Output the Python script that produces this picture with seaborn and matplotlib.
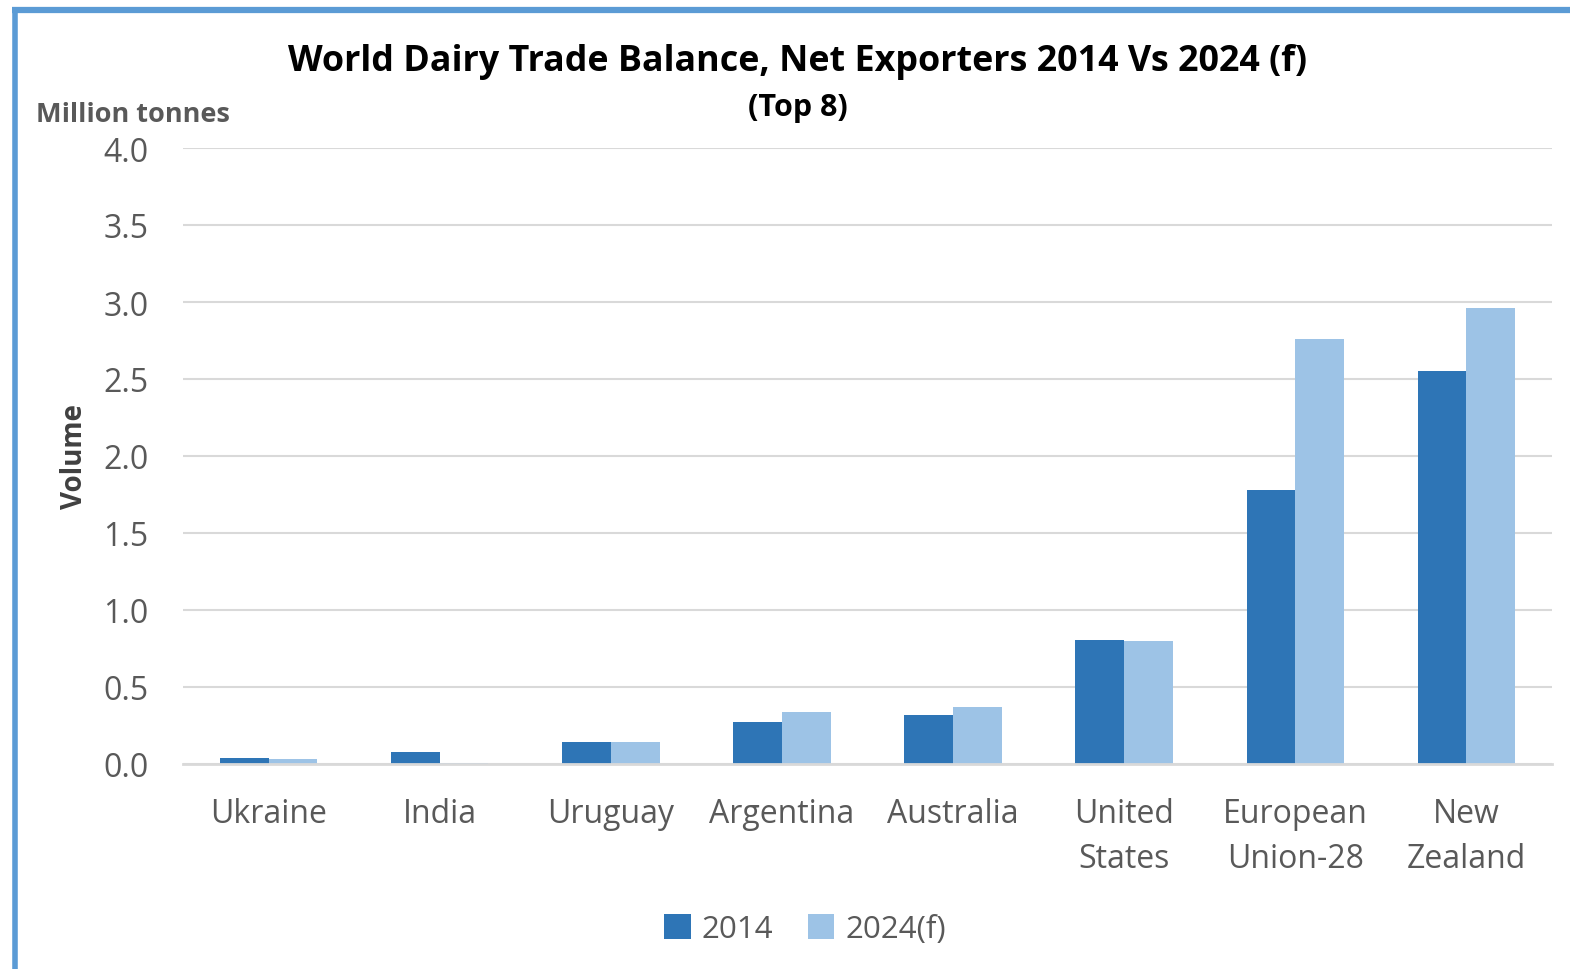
import matplotlib
matplotlib.use("Agg")
import matplotlib.pyplot as plt
import seaborn as sns
import pandas as pd
from matplotlib.patches import Patch
from matplotlib.lines import Line2D

countries = ["Ukraine", "India", "Uruguay", "Argentina", "Australia",
             "United\nStates", "European\nUnion-28", "New\nZealand"]
vol_2014 = [0.04, 0.08, 0.14, 0.27, 0.32, 0.805, 1.78, 2.55]
vol_2024 = [0.03, 0.005, 0.14, 0.34, 0.37, 0.80, 2.76, 2.96]
series = ["2014", "2024(f)"]
colors = ["#2E75B6", "#9DC3E6"]
yticks = [0.0, 0.5, 1.0, 1.5, 2.0, 2.5, 3.0, 3.5, 4.0]

df = pd.DataFrame({
    "country": countries * 2,
    "volume": vol_2014 + vol_2024,
    "year": [series[0]] * len(countries) + [series[1]] * len(countries),
})

sns.set_theme(style="white")
plt.rcParams["font.family"] = ["Open Sans", "DejaVu Sans"]

fig = plt.figure(figsize=(15.7, 9.7), dpi=100)
ax = fig.add_axes([183 / 1570, 1 - 765 / 970, (1552 - 183) / 1570, (765 - 149) / 970])

sns.barplot(data=df, x="country", y="volume", hue="year", order=countries,
            hue_order=series, palette=colors, width=0.57, gap=0,
            saturation=1, ax=ax, legend=False, edgecolor="none")

ax.set_ylim(0, 4.0)
ax.set_xlim(-0.5, len(countries) - 0.5)
ax.set_yticks(yticks)
ax.set_yticklabels([f"{t:.1f}" for t in yticks])
ax.yaxis.grid(True, color="#D9D9D9", linewidth=1.5)
ax.set_axisbelow(True)
for side in ["top", "right", "left"]:
    ax.spines[side].set_visible(False)
ax.spines["bottom"].set_color("#D9D9D9")
ax.spines["bottom"].set_linewidth(2)
ax.tick_params(axis="both", length=0, labelsize=23, labelcolor="#595959")
ax.tick_params(axis="y", pad=25)
ax.tick_params(axis="x", pad=24)
for lbl in ax.get_xticklabels():
    lbl.set_linespacing(1.45)
ax.set_xlabel("")
ax.set_ylabel("Volume", fontsize=20, fontweight="bold", color="#404040", labelpad=10)

fig.text(798 / 1570, 1 - 62 / 970, "World Dairy Trade Balance, Net Exporters 2014 Vs 2024 (f)",
         ha="center", va="center", fontsize=25.8, fontweight="bold", color="black")
fig.text(798 / 1570, 1 - 108 / 970, "(Top 8)",
         ha="center", va="center", fontsize=22, fontweight="bold", color="black")
fig.text(36 / 1570, 1 - 115 / 970, "Million tonnes",
         ha="left", va="center", fontsize=19.5, fontweight="bold", color="#595959")

handles = [Patch(facecolor=c, edgecolor="none", label=s) for c, s in zip(colors, series)]
fig.legend(handles=handles, loc="center", bbox_to_anchor=(805 / 1570, 1 - 930 / 970),
           ncol=2, frameon=False, fontsize=22.5, labelcolor="#595959",
           handlelength=0.85, handleheight=0.85, handletextpad=0.35, columnspacing=1.1)

# blue frame along top and left edges
fig.add_artist(Line2D([14.5 / 1570, 14.5 / 1570], [0, 1 - 11 / 970], transform=fig.transFigure,
                      color="#5B9BD5", linewidth=4, solid_capstyle="butt"))
fig.add_artist(Line2D([12 / 1570, 1], [1 - 11 / 970, 1 - 11 / 970], transform=fig.transFigure,
                      color="#5B9BD5", linewidth=4.5, solid_capstyle="butt"))

fig.savefig("out.png", dpi=100, facecolor="white")
